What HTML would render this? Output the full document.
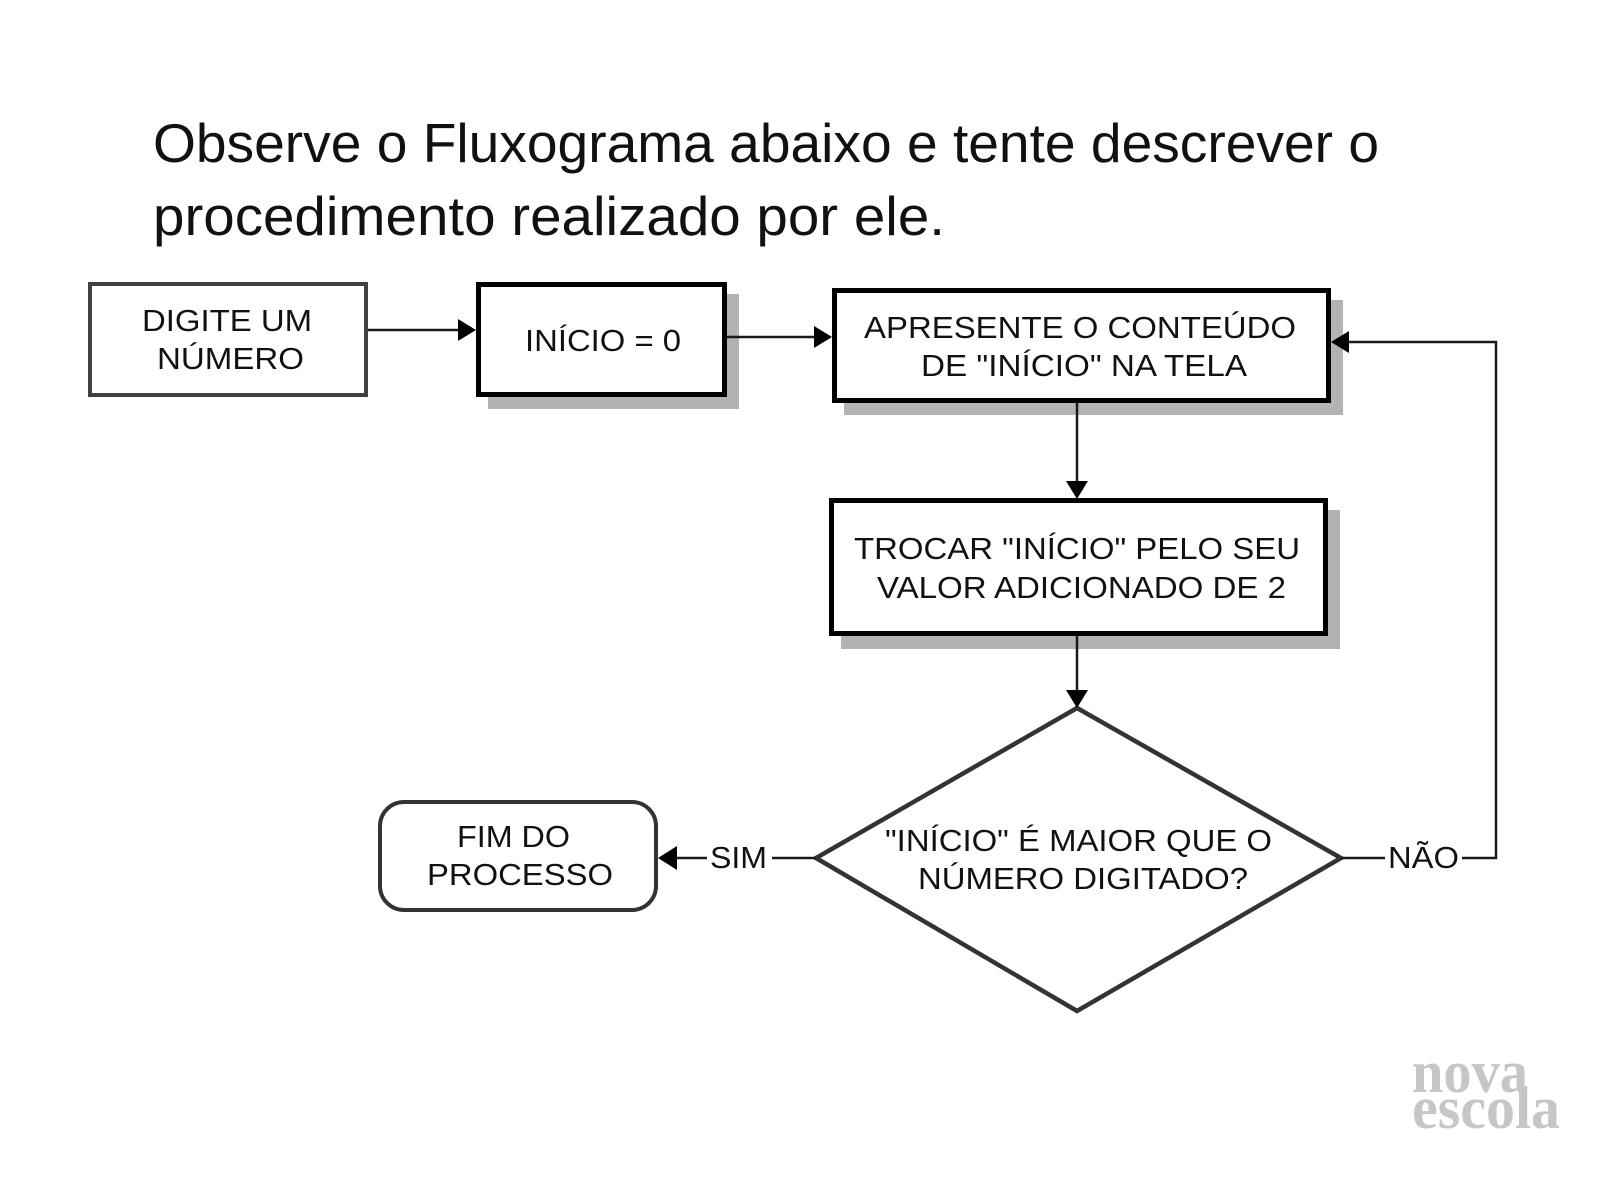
<!DOCTYPE html>
<html>
<head>
<meta charset="utf-8">
<style>
  html, body { margin: 0; padding: 0; background: #ffffff; }
  body { width: 1600px; height: 1200px; overflow: hidden; }
  svg { display: block; }
  .t { font-family: "Liberation Sans", Arial, sans-serif; fill: #111; }
  .s { font-family: "Liberation Serif", serif; font-weight: bold; fill: #c6c6c6; }
</style>
</head>
<body>
<svg width="1600" height="1200" viewBox="0 0 1600 1200" xmlns="http://www.w3.org/2000/svg">
  <rect x="0" y="0" width="1600" height="1200" fill="#ffffff"/>

  <!-- Title -->
  <text class="t" x="153" y="162" font-size="55" textLength="1226" lengthAdjust="spacingAndGlyphs">Observe o Fluxograma abaixo e tente descrever o</text>
  <text class="t" x="153" y="235" font-size="55" textLength="792" lengthAdjust="spacingAndGlyphs">procedimento realizado por ele.</text>

  <!-- Box 1: DIGITE UM NÚMERO -->
  <rect x="90" y="284" width="276" height="111" fill="#fff" stroke="#404040" stroke-width="4"/>
  <text class="t" x="142" y="331" font-size="31" textLength="170" lengthAdjust="spacingAndGlyphs">DIGITE UM</text>
  <text class="t" x="157" y="369" font-size="31" textLength="147" lengthAdjust="spacingAndGlyphs">NÚMERO</text>

  <!-- Box 2: INÍCIO = 0 -->
  <rect x="488" y="294" width="251" height="115" fill="#b3b3b3"/>
  <rect x="478.5" y="284.5" width="246" height="110" fill="#fff" stroke="#000" stroke-width="5"/>
  <text class="t" x="525" y="351" font-size="31" textLength="156" lengthAdjust="spacingAndGlyphs">INÍCIO = 0</text>

  <!-- Box 3: APRESENTE -->
  <rect x="844" y="300" width="499" height="115" fill="#b3b3b3"/>
  <rect x="834.5" y="290.5" width="494" height="110" fill="#fff" stroke="#000" stroke-width="5"/>
  <text class="t" x="864" y="338" font-size="31" textLength="432" lengthAdjust="spacingAndGlyphs">APRESENTE O CONTEÚDO</text>
  <text class="t" x="921" y="376" font-size="31" textLength="326" lengthAdjust="spacingAndGlyphs">DE "INÍCIO" NA TELA</text>

  <!-- Box 4: TROCAR -->
  <rect x="841" y="510" width="499" height="139" fill="#b3b3b3"/>
  <rect x="831.5" y="500.5" width="494" height="133" fill="#fff" stroke="#000" stroke-width="5"/>
  <text class="t" x="854" y="559" font-size="31" textLength="446" lengthAdjust="spacingAndGlyphs">TROCAR "INÍCIO" PELO SEU</text>
  <text class="t" x="877" y="598" font-size="31" textLength="409" lengthAdjust="spacingAndGlyphs">VALOR ADICIONADO DE 2</text>

  <!-- Diamond -->
  <polygon points="1077,708 1341,858 1077,1011 816,858" fill="#fff" stroke="#333" stroke-width="4.5" stroke-linejoin="miter"/>
  <text class="t" x="885" y="851" font-size="31" textLength="387" lengthAdjust="spacingAndGlyphs">"INÍCIO" É MAIOR QUE O</text>
  <text class="t" x="918" y="889" font-size="31" textLength="330" lengthAdjust="spacingAndGlyphs">NÚMERO DIGITADO?</text>

  <!-- FIM DO PROCESSO -->
  <rect x="380" y="802" width="276" height="108" rx="24" ry="24" fill="#fff" stroke="#333" stroke-width="4"/>
  <text class="t" x="457" y="847" font-size="31" textLength="113" lengthAdjust="spacingAndGlyphs">FIM DO</text>
  <text class="t" x="427" y="885" font-size="31" textLength="186" lengthAdjust="spacingAndGlyphs">PROCESSO</text>

  <!-- Connectors -->
  <g stroke="#1a1a1a" stroke-width="2.5" fill="none">
    <line x1="368" y1="330" x2="460" y2="330"/>
    <line x1="727" y1="337" x2="816" y2="337"/>
    <line x1="1077" y1="403" x2="1077" y2="482"/>
    <line x1="1077" y1="636" x2="1077" y2="692"/>
    <!-- SIM -->
    <line x1="816" y1="858" x2="772" y2="858"/>
    <line x1="707" y1="858" x2="674" y2="858"/>
    <!-- NÃO loop -->
    <line x1="1341" y1="858" x2="1385" y2="858"/>
    <polyline points="1462,858 1496,858 1496,342 1346,342"/>
  </g>

  <!-- Arrowheads -->
  <g fill="#000">
    <polygon points="476,330 458,319 458,341"/>
    <polygon points="832,337 814,326 814,348"/>
    <polygon points="1077,499 1066,481 1088,481"/>
    <polygon points="1077,708 1066,690 1088,690"/>
    <polygon points="658,858 677,846 677,870"/>
    <polygon points="1331,342 1349,331 1349,353"/>
  </g>

  <!-- Labels -->
  <text class="t" x="710" y="868" font-size="31" textLength="57" lengthAdjust="spacingAndGlyphs">SIM</text>
  <text class="t" x="1388" y="868" font-size="31" textLength="71" lengthAdjust="spacingAndGlyphs">NÃO</text>

  <!-- Logo -->
  <text class="s" x="1412" y="1092" font-size="60" textLength="116" lengthAdjust="spacingAndGlyphs">nova</text>
  <text class="s" x="1412" y="1128" font-size="60" textLength="148" lengthAdjust="spacingAndGlyphs">escola</text>
</svg>
</body>
</html>
